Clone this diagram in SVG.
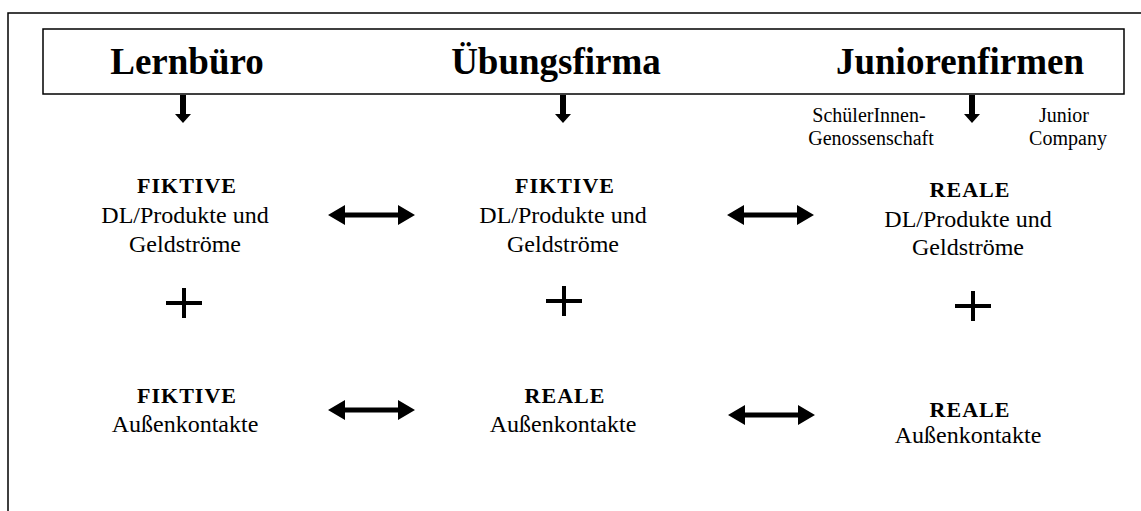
<svg xmlns="http://www.w3.org/2000/svg" width="1141" height="511" viewBox="0 0 1141 511">
<style>
text{font-family:"Liberation Serif","Times New Roman",serif;fill:#000;text-anchor:middle}
.h{font-size:37px;font-weight:bold}
.b{font-size:22px;font-weight:bold;letter-spacing:1px}
.r{font-size:24px}
.s{font-size:20px}
.frame{fill:none;stroke:#000;stroke-width:1.5}
.arr{fill:#000}
</style>
<defs>
<path id="down" d="M-3,0 H3 V19 H8 L0,28 L-8,19 H-3 Z"/>
<path id="dbl" d="M0,0 L17,-10 V-2.5 H70 V-10 L87,0 L70,10 V2.5 H17 V10 Z"/>
<path id="plus" d="M-18,-2 H-2 V-15 H2 V-2 H18 V2 H2 V15 H-2 V2 H-18 Z"/>
</defs>
<rect width="1141" height="511" fill="#fff"/>
<g id="frame">
<path class="frame" d="M8,511 V13 H1141"/>
</g>
<g id="header">
<rect class="frame" x="43" y="29" width="1081" height="65"/>
<text class="h" x="187" y="74">Lernbüro</text>
<text class="h" x="556" y="74">Übungsfirma</text>
<text class="h" x="960" y="74">Juniorenfirmen</text>
</g>
<g id="subtypes">
<text class="s" x="869" y="122">SchülerInnen-</text>
<text class="s" x="871" y="145">Genossenschaft</text>
<text class="s" x="1064" y="122">Junior</text>
<text class="s" x="1068" y="145">Company</text>
</g>
<g id="col1-top">
<text class="b" x="187" y="193">FIKTIVE</text>
<text class="r" x="185" y="223">DL/Produkte und</text>
<text class="r" x="185" y="252">Geldströme</text>
</g>
<g id="col2-top">
<text class="b" x="565" y="193">FIKTIVE</text>
<text class="r" x="563" y="223">DL/Produkte und</text>
<text class="r" x="563" y="252">Geldströme</text>
</g>
<g id="col3-top">
<text class="b" x="970" y="197">REALE</text>
<text class="r" x="968" y="227">DL/Produkte und</text>
<text class="r" x="968" y="255">Geldströme</text>
</g>
<g id="col1-bottom">
<text class="b" x="187" y="403">FIKTIVE</text>
<text class="r" x="185" y="432">Außenkontakte</text>
</g>
<g id="col2-bottom">
<text class="b" x="565" y="403">REALE</text>
<text class="r" x="563" y="432">Außenkontakte</text>
</g>
<g id="col3-bottom">
<text class="b" x="970" y="417">REALE</text>
<text class="r" x="968" y="443">Außenkontakte</text>
</g>
<g id="plus-signs">
<use href="#plus" x="184" y="303"/>
<use href="#plus" x="564" y="301"/>
<use href="#plus" x="973" y="306"/>
</g>
<g id="connectors" class="arr">
<use href="#down" x="183" y="95"/>
<use href="#down" x="563" y="95"/>
<use href="#down" x="972" y="95"/>
<use href="#dbl" x="328" y="215"/>
<use href="#dbl" x="727" y="215"/>
<use href="#dbl" x="328" y="410"/>
<use href="#dbl" x="728" y="415"/>
</g>
</svg>
